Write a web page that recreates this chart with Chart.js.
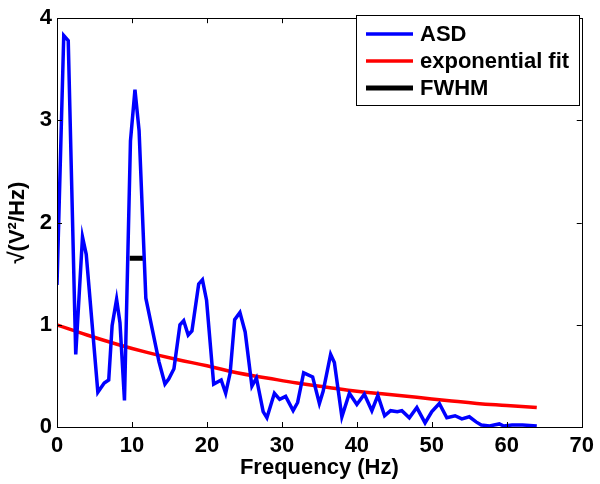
<!DOCTYPE html>
<html>
<head>
<meta charset="utf-8">
<script src="https://cdn.jsdelivr.net/npm/chart.js@4.4.0/dist/chart.umd.min.js"></script>
<style>
  html, body { margin: 0; padding: 0; background: #fff; }
</style>
</head>
<body>
<canvas id="chart" width="600" height="484"></canvas>
<script>
// ASD (Hz, sqrt(V^2/Hz))
const asdFreq = [0, 0.9, 1.5, 2.5, 3.4, 3.9, 5.45, 6.3, 6.9, 7.35, 7.95, 8.4, 9.0, 9.8, 10.4, 10.95,
  11.85, 13.6, 14.4, 14.9, 15.6, 16.4, 16.9, 17.5, 18.0, 18.9, 19.4, 19.95, 20.9, 21.9, 22.5, 23.1,
  23.7, 24.4, 25.1, 26.0, 26.6, 27.5, 28.0, 29.0, 29.7, 30.5, 31.5, 32.1, 32.9, 34.1, 35.0, 35.5,
  36.5, 37.0, 38.0, 39.0, 40.0, 41.0, 42.0, 42.8, 43.7, 44.5, 45.4, 46.0, 47.0, 48.0, 49.1, 50.0,
  51.0, 52.0, 53.1, 54.0, 55.0, 55.9, 56.6, 57.7, 59.0, 59.6, 60.7, 62.1, 64.0];
const asdValue = [1.39, 3.83, 3.78, 0.71, 1.86, 1.69, 0.34, 0.43, 0.46, 0.99, 1.25, 1.02, 0.26, 2.8, 3.30, 2.9,
  1.26, 0.64, 0.42, 0.47, 0.57, 1.0, 1.04, 0.9, 0.94, 1.40, 1.44, 1.24, 0.42, 0.46, 0.33, 0.53,
  1.05, 1.12, 0.93, 0.40, 0.48, 0.15, 0.09, 0.33, 0.27, 0.30, 0.16, 0.24, 0.53, 0.49, 0.23, 0.35,
  0.71, 0.63, 0.10, 0.33, 0.22, 0.32, 0.16, 0.31, 0.11, 0.16, 0.15, 0.16, 0.09, 0.19, 0.04, 0.15,
  0.23, 0.09, 0.11, 0.08, 0.10, 0.05, 0.02, 0.01, 0.03, 0.01, 0.02, 0.02, 0.01];

// exponential fit
const fitFreq = [0, 4, 8, 12, 16, 20, 24, 28, 32, 36, 40, 44, 48, 52, 56, 60, 64];
const fitValue = [1.00, 0.90, 0.81, 0.73, 0.66, 0.60, 0.53, 0.48, 0.43, 0.39, 0.35, 0.32, 0.29, 0.26, 0.23, 0.21, 0.19];

// FWHM bar
const fwhmFreq = [9.7, 11.6];
const fwhmValue = [1.65, 1.65];

const xTicks = [0, 10, 20, 30, 40, 50, 60, 70];
const yTicks = [0, 1, 2, 3, 4];

const FONT = 'Liberation Sans, Arial, Helvetica, sans-serif';

function pts(xs, ys) {
  return xs.map((x, i) => ({ x: x, y: ys[i] }));
}

// black box around the axes, ticks pointing inwards on all four sides
const boxPlugin = {
  id: 'box',
  afterDraw(chart) {
    const ctx = chart.ctx;
    const a = chart.chartArea;
    const xs = chart.scales.x, ys = chart.scales.y;
    ctx.save();
    ctx.strokeStyle = '#000';
    ctx.lineWidth = 1;
    ctx.beginPath();
    xTicks.forEach(v => {
      const px = Math.round(xs.getPixelForValue(v)) + 0.5;
      ctx.moveTo(px, a.bottom); ctx.lineTo(px, a.bottom - 5);
      ctx.moveTo(px, a.top); ctx.lineTo(px, a.top + 5);
    });
    yTicks.forEach(v => {
      const py = Math.round(ys.getPixelForValue(v)) + 0.5;
      ctx.moveTo(a.left, py); ctx.lineTo(a.left + 5, py);
      ctx.moveTo(a.right, py); ctx.lineTo(a.right - 5, py);
    });
    ctx.stroke();
    ctx.strokeRect(Math.round(a.left) + 0.5, Math.round(a.top) + 0.5,
      Math.round(a.right - a.left), Math.round(a.bottom - a.top));
    ctx.restore();
  }
};

// legend drawn inside the axes, top right
const legendPlugin = {
  id: 'boxLegend',
  afterDraw(chart) {
    const ctx = chart.ctx;
    const items = chart.data.datasets;
    ctx.save();
    ctx.fillStyle = '#fff';
    ctx.fillRect(356, 15, 223, 90);
    ctx.strokeStyle = '#000';
    ctx.lineWidth = 1;
    ctx.strokeRect(356.5, 15.5, 223, 90);
    ctx.font = 'bold 22px ' + FONT;
    ctx.textBaseline = 'middle';
    items.forEach((d, i) => {
      const y = 34 + i * 27;
      ctx.strokeStyle = d.borderColor;
      ctx.lineWidth = d.borderWidth;
      ctx.beginPath();
      ctx.moveTo(366, y); ctx.lineTo(413, y);
      ctx.stroke();
      ctx.fillStyle = '#000';
      ctx.fillText(d.label, 420, y + 1);
    });
    ctx.restore();
  }
};

new Chart(document.getElementById('chart'), {
  type: 'line',
  data: {
    datasets: [
      { label: 'ASD', data: pts(asdFreq, asdValue), borderColor: '#0000ff', borderWidth: 3.5, pointRadius: 0, tension: 0 },
      { label: 'exponential fit', data: pts(fitFreq, fitValue), borderColor: '#ff0000', borderWidth: 3.5, pointRadius: 0, tension: 0.4 },
      { label: 'FWHM', data: pts(fwhmFreq, fwhmValue), borderColor: '#000000', borderWidth: 5, pointRadius: 0, borderCapStyle: 'butt' }
    ]
  },
  options: {
    responsive: false,
    animation: false,
    layout: { padding: { top: 8, right: 13 } },
    plugins: { legend: { display: false }, tooltip: { enabled: false } },
    scales: {
      x: {
        type: 'linear', min: 0, max: 70,
        afterBuildTicks: s => { s.ticks = xTicks.map(v => ({ value: v })); },
        afterFit: s => { s.height = 57; },
        grid: { display: false, drawTicks: false },
        border: { display: false },
        ticks: { color: '#000', padding: 6, maxRotation: 0, font: { family: FONT, size: 22, weight: 'bold' } },
        title: { display: true, text: 'Frequency (Hz)', color: '#000', padding: { top: 0, bottom: 3 },
          font: { family: FONT, size: 22, weight: 'bold' } }
      },
      y: {
        min: 0, max: 4,
        afterBuildTicks: s => { s.ticks = yTicks.map(v => ({ value: v })); },
        afterFit: s => { s.width = 57; },
        grid: { display: false, drawTicks: false },
        border: { display: false },
        ticks: { color: '#000', padding: 5, font: { family: FONT, size: 22, weight: 'bold' } },
        title: { display: true, text: '√(V²/Hz)', color: '#000', padding: { top: 5, bottom: 0 },
          font: { family: FONT, size: 22, weight: 'bold' } }
      }
    }
  },
  plugins: [boxPlugin, legendPlugin]
});
</script>
</body>
</html>
